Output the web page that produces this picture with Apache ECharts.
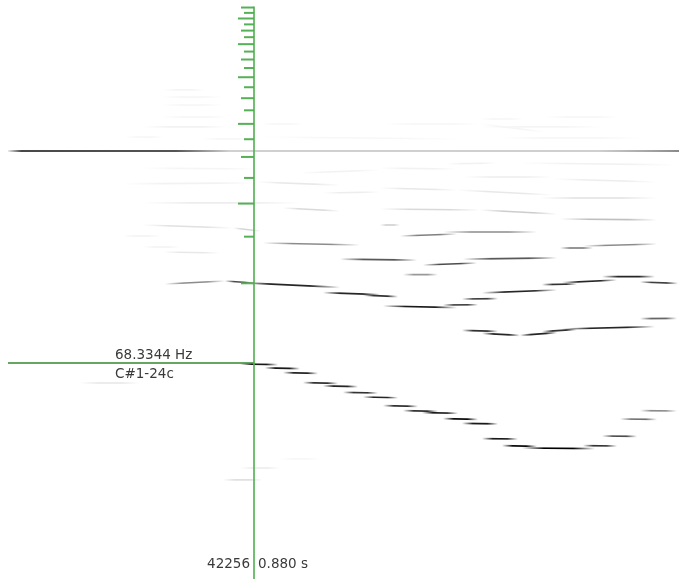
<!DOCTYPE html>
<html><head><meta charset="utf-8">
<script src="https://cdn.jsdelivr.net/npm/echarts@6/dist/echarts.min.js"></script>
<style>html,body{margin:0;padding:0;background:#fff}#c{width:679px;height:579px}</style>
</head><body><div id="c"></div>
<script>
// ---- values (time in seconds, pitch in MIDI semitones) ----
const playheadTime = 0.880;
const playheadFrame = 42256;
const cursorFreqHz = 68.3344;
const cursorNote = 'C#1-24c';
const harmonicNumbers = [2,3,4,5,6,7,8,9,10,11,12,13,14,15,16,17,18,19,20,21,22];
const timeRange = [0.245, 1.9425];
const pitchRange = [4.241, 91.405];

// streaks: [t0, pitch0, t1, pitch1, strength]
const trackC = [
 [0.845,36.61,0.940,36.50,0.9],[0.9075,36.01,0.995,35.90,0.9],[0.9525,35.30,1.04,35.21,0.85],
 [1.0025,33.79,1.09,33.70,0.8],[1.0525,33.30,1.14,33.19,0.85],[1.1025,32.35,1.19,32.24,0.8],
 [1.1525,31.64,1.24,31.53,0.85],[1.2025,30.33,1.29,30.24,0.8],[1.2525,29.58,1.34,29.49,0.8],
 [1.30,29.28,1.39,29.19,0.9],[1.3525,28.37,1.44,28.28,0.95],[1.40,27.68,1.49,27.58,0.9],
 [1.45,25.36,1.54,25.32,0.9],[1.50,24.31,1.5875,24.22,0.95],[1.55,23.96,1.7325,23.86,1.0],
 [1.7025,24.31,1.7875,24.26,0.8],[1.75,25.77,1.8375,25.72,0.7],[1.795,28.33,1.8875,28.28,0.55],
 [1.845,29.58,1.9375,29.53,0.45]
];
const trackA = [
 [0.6575,48.65,0.8075,49.10,0.45],[0.8075,49.10,0.88,48.80,0.7],[0.845,48.85,1.095,48.15,0.85],
 [1.0525,47.34,1.195,47.04,0.85],[1.1525,46.99,1.24,46.74,0.8],[1.2025,45.34,1.3875,45.08,0.9],
 [1.3525,45.49,1.44,45.53,0.8],[1.40,46.39,1.49,46.44,0.75],[1.45,47.30,1.6375,47.75,0.85],
 [1.60,48.55,1.6875,48.65,0.8],[1.65,48.85,1.7875,49.25,0.85],[1.75,49.75,1.8825,49.75,0.85],
 [1.845,48.95,1.94,48.76,0.75]
];
const upperA = [
 [1.095,52.41,1.2875,52.26,0.65],[1.3025,51.51,1.4375,51.81,0.7],
 [1.4025,52.41,1.6375,52.57,0.65],[1.2525,50.05,1.34,50.05,0.4]
];
const trackB = [
 [1.40,41.68,1.49,41.53,0.8],[1.45,41.23,1.545,40.93,0.85],[1.545,40.93,1.6375,41.32,0.85],
 [1.60,41.47,1.6875,41.83,0.8],[1.65,41.88,1.8825,42.22,0.85],[1.845,43.43,1.9375,43.49,0.6]
];
const midStreaks = [
 [0.9025,54.82,1.145,54.52,0.45],[1.245,55.88,1.3875,56.18,0.5],[1.3525,56.48,1.5875,56.48,0.45],
 [1.645,54.07,1.7275,54.07,0.55],[1.7025,54.37,1.8875,54.67,0.45],[1.195,57.53,1.245,57.53,0.2],
 [1.645,58.44,1.8875,58.29,0.25],[1.195,59.94,1.445,59.79,0.15],[1.445,59.79,1.6375,59.19,0.2],
 [0.9525,60.09,1.095,59.64,0.15],[0.6025,60.85,0.995,60.85,0.07],[1.595,61.60,1.8875,61.60,0.12],
 [1.0525,62.35,1.195,62.50,0.07],[1.195,63.10,1.3875,62.80,0.09],[1.3875,62.80,1.6275,62.05,0.09],
 [0.8875,64.01,1.095,63.55,0.09],[0.5525,63.71,0.8875,63.86,0.05],[1.4025,64.76,1.6275,64.76,0.07],
 [1.6275,64.46,1.8875,64.01,0.07],[0.995,65.36,1.195,65.81,0.05],[1.195,66.11,1.3875,65.96,0.05],
 [0.6025,66.11,0.895,65.96,0.04],[1.3625,66.72,1.4875,66.87,0.05],[1.545,66.87,1.9375,66.57,0.05],
 [0.6025,57.53,0.8275,57.08,0.12],[0.8275,57.08,0.895,56.63,0.16],[0.5525,55.88,0.645,55.88,0.05],
 [0.6025,54.22,0.695,54.22,0.05],[0.6525,53.47,0.795,53.32,0.09]
];
const upperStreaks = [
 [0.6525,77.86,0.7575,77.86,0.04],[0.6525,76.80,0.80,76.80,0.04],[0.6525,75.60,0.80,75.60,0.04],
 [0.6525,73.79,0.8125,73.79,0.04],[0.605,72.29,0.8125,72.29,0.05],[0.90,72.74,1.0025,72.74,0.04],
 [0.56,70.78,0.6525,70.78,0.04],[0.7525,70.48,0.8775,70.48,0.04],[0.90,70.78,1.40,70.48,0.03],
 [1.205,72.74,1.445,72.74,0.04],[1.445,72.74,1.6075,71.53,0.04],[1.445,73.49,1.5525,73.49,0.04],
 [1.6075,73.79,1.7925,73.79,0.04],[1.445,72.29,1.75,72.29,0.04],[1.4975,70.63,1.8475,70.63,0.04]
];
const lowerStreaks = [
 [0.445,33.75,0.595,33.75,0.1],[0.8025,19.15,0.90,19.15,0.12],
 [0.845,20.95,0.945,20.95,0.08],[0.945,22.31,1.045,22.31,0.03]
];
const toneLine = [[0.265,68.67,1.9425,68.67]];
const cursorLineStart = 0.265;

// ---- derived ----
const cursorPitch = 69 + 12*Math.log2(cursorFreqHz/440);
const allStreaks = [].concat(upperStreaks, midStreaks, lowerStreaks, upperA, trackA, trackB, trackC);

function streakItem(params, api){
  const a = api.coord([api.value(0), api.value(1)]);
  const b = api.coord([api.value(2), api.value(3)]);
  const s = api.value(4);
  const g = Math.round(255*(1-s));
  const c = 'rgba('+g+','+g+','+g+',';
  return {type:'line', shape:{x1:a[0],y1:a[1],x2:b[0],y2:b[1]},
    style:{stroke:new echarts.graphic.LinearGradient(a[0],a[1],b[0],b[1],[
      {offset:0,color:c+'0)'},{offset:0.3,color:c+'1)'},{offset:0.7,color:c+'1)'},{offset:1,color:c+'0)'}],true),
      lineWidth:1.7}};
}
function toneItem(params, api){
  const a = api.coord([api.value(0), api.value(1)]);
  const b = api.coord([api.value(2), api.value(3)]);
  return {type:'line', shape:{x1:a[0],y1:a[1],x2:b[0],y2:b[1]},
    style:{stroke:new echarts.graphic.LinearGradient(a[0],a[1],b[0],b[1],[
      {offset:0,color:'rgba(70,70,70,0.1)'},{offset:0.02,color:'#484848'},{offset:0.25,color:'#555'},
      {offset:0.33,color:'#d0d0d0'},{offset:0.88,color:'#cfcfcf'},{offset:1,color:'#8a8a8a'}],true),
      lineWidth:2}};
}
function tickItem(params, api){
  const n = api.value(2);
  const p = api.coord([api.value(0), api.value(1)]);
  const len = (n%4===0) ? 16 : (n%2===0 ? 13 : 10);
  return {type:'line', shape:{x1:p[0]-len,y1:p[1],x2:p[0],y2:p[1]},
    style:{stroke:'#55b155', lineWidth:2}};
}
function playheadItem(params, api){
  const top = api.coord([api.value(0), api.value(1)]);
  const bottom = params.coordSys.y + params.coordSys.height;
  return {type:'line', shape:{x1:top[0],y1:top[1]-1,x2:top[0],y2:bottom},
    style:{stroke:'#4fae4f', lineWidth:1.6}};
}
function cursorItem(params, api){
  const a = api.coord([api.value(0), api.value(1)]);
  const b = api.coord([api.value(2), api.value(1)]);
  return {type:'line', shape:{x1:a[0],y1:a[1],x2:b[0],y2:b[1]},
    style:{stroke:'#2f8a2f', lineWidth:1.5}};
}

const maxH = harmonicNumbers[harmonicNumbers.length-1];
const chart = echarts.init(document.getElementById('c'), null, {renderer:'canvas'});
chart.setOption({
  animation:false,
  backgroundColor:'#fff',
  grid:{left:0,right:0,top:0,bottom:0},
  xAxis:{type:'value',min:timeRange[0],max:timeRange[1],show:false},
  yAxis:{type:'value',min:pitchRange[0],max:pitchRange[1],show:false},
  series:[
    {type:'custom',renderItem:streakItem,data:allStreaks,encode:{x:[0,2],y:[1,3]},silent:true},
    {type:'custom',renderItem:toneItem,data:toneLine,encode:{x:[0,2],y:[1,3]},silent:true},
    {type:'custom',renderItem:cursorItem,data:[[cursorLineStart,cursorPitch,playheadTime]],encode:{x:[0,2],y:1},silent:true},
    {type:'custom',renderItem:tickItem,data:harmonicNumbers.map(n=>[playheadTime,cursorPitch+12*Math.log2(n),n]),encode:{x:0,y:1},silent:true},
    {type:'custom',renderItem:playheadItem,data:[[playheadTime,cursorPitch+12*Math.log2(maxH)]],encode:{x:0,y:1},silent:true}
  ]
});

const ph = chart.convertToPixel({gridIndex:0},[playheadTime,cursorPitch]);
const fontBase = {fontFamily:'DejaVu Sans',fontSize:13.5,fill:'#3a3a3a'};
chart.setOption({graphic:[
  {type:'text',left:115,top:ph[1]-14,style:Object.assign({text:cursorFreqHz.toFixed(4)+' Hz'},fontBase)},
  {type:'text',left:115,top:ph[1]+5,style:Object.assign({text:cursorNote},fontBase)},
  {type:'text',right:679-ph[0]+4,top:557,style:Object.assign({text:String(playheadFrame)},fontBase)},
  {type:'text',left:ph[0]+4,top:557,style:Object.assign({text:playheadTime.toFixed(3)+' s'},fontBase)}
]});
</script>
</body></html>
